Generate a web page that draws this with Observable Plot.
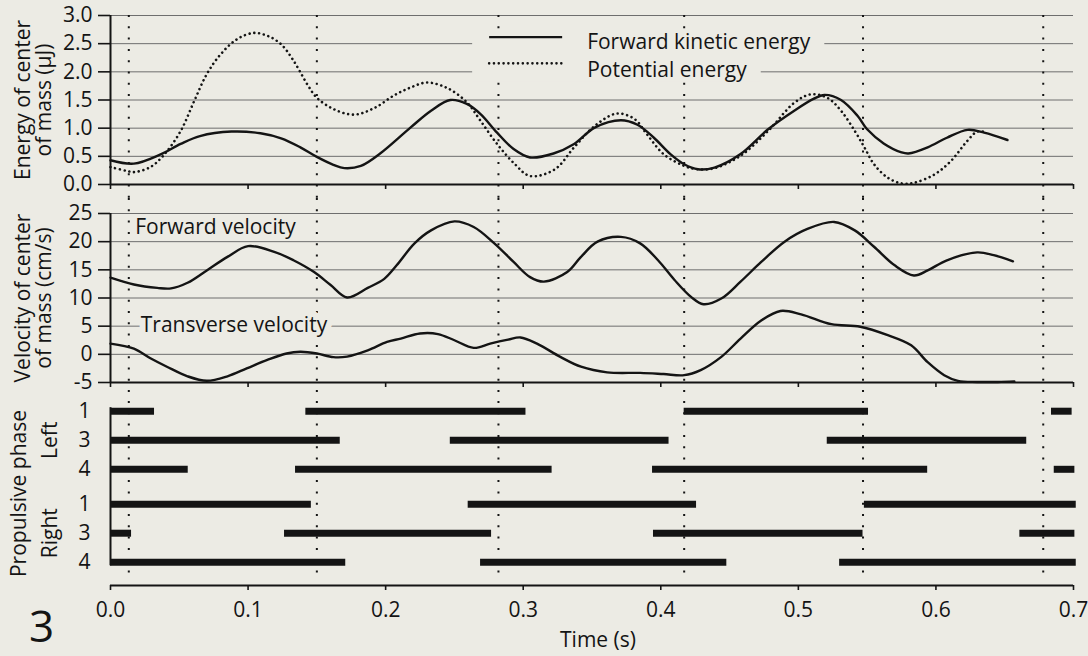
<!DOCTYPE html>
<html><head><meta charset="utf-8">
<script src="https://cdn.jsdelivr.net/npm/d3@7"></script>
<script src="https://cdn.jsdelivr.net/npm/@observablehq/plot@0.6"></script>
<style>
html,body{margin:0;padding:0;background:#ecebe4;overflow:hidden}
#chart svg{display:block}
</style></head><body><div id="chart"></div>
<script>
// ---------------- data ----------------
const keT = [0, 0.017, 0.036, 0.051, 0.065, 0.088, 0.109, 0.124, 0.138, 0.150, 0.162, 0.170, 0.182, 0.196, 0.218, 0.233, 0.247, 0.259, 0.269, 0.281, 0.293, 0.305, 0.322, 0.337, 0.352, 0.371, 0.383, 0.395, 0.407, 0.417, 0.427, 0.439, 0.458, 0.478, 0.497, 0.511, 0.519, 0.531, 0.543, 0.550, 0.562, 0.575, 0.580, 0.594, 0.608, 0.623, 0.635, 0.652];
const keV = [0.43, 0.37, 0.53, 0.72, 0.86, 0.94, 0.91, 0.82, 0.66, 0.49, 0.35, 0.29, 0.33, 0.55, 1.01, 1.31, 1.50, 1.43, 1.25, 0.92, 0.63, 0.48, 0.55, 0.72, 1.01, 1.14, 1.06, 0.83, 0.54, 0.36, 0.27, 0.30, 0.54, 0.98, 1.31, 1.52, 1.59, 1.50, 1.22, 0.98, 0.73, 0.57, 0.55, 0.66, 0.83, 0.97, 0.92, 0.79];

const peT = [0, 0.012, 0.017, 0.029, 0.039, 0.051, 0.061, 0.070, 0.080, 0.092, 0.104, 0.114, 0.124, 0.133, 0.143, 0.150, 0.162, 0.177, 0.192, 0.206, 0.218, 0.230, 0.245, 0.259, 0.269, 0.281, 0.294, 0.305, 0.323, 0.337, 0.352, 0.368, 0.381, 0.390, 0.402, 0.417, 0.427, 0.439, 0.458, 0.478, 0.497, 0.509, 0.521, 0.531, 0.541, 0.548, 0.555, 0.565, 0.575, 0.584, 0.599, 0.611, 0.623, 0.630, 0.636];
const peV = [0.31, 0.24, 0.22, 0.31, 0.53, 0.95, 1.49, 1.96, 2.31, 2.58, 2.69, 2.64, 2.49, 2.20, 1.78, 1.54, 1.34, 1.24, 1.36, 1.58, 1.72, 1.81, 1.71, 1.46, 1.13, 0.72, 0.36, 0.15, 0.27, 0.66, 1.04, 1.26, 1.16, 0.89, 0.54, 0.33, 0.27, 0.29, 0.51, 0.95, 1.45, 1.60, 1.54, 1.31, 0.95, 0.66, 0.36, 0.12, 0.02, 0.03, 0.18, 0.42, 0.78, 0.94, 0.93];

const fvT = [0, 0.017, 0.034, 0.044, 0.056, 0.070, 0.085, 0.100, 0.119, 0.133, 0.148, 0.160, 0.172, 0.187, 0.199, 0.208, 0.221, 0.233, 0.250, 0.264, 0.279, 0.293, 0.305, 0.315, 0.332, 0.342, 0.354, 0.371, 0.385, 0.398, 0.410, 0.422, 0.431, 0.444, 0.458, 0.473, 0.490, 0.507, 0.526, 0.541, 0.555, 0.570, 0.584, 0.594, 0.608, 0.630, 0.642, 0.656];
const fvV = [13.6, 12.4, 11.8, 11.7, 12.7, 14.9, 17.3, 19.2, 18.2, 16.7, 14.6, 12.3, 10.1, 11.8, 13.4, 15.8, 19.7, 22.0, 23.6, 22.6, 19.7, 16.4, 13.7, 12.9, 14.6, 17.3, 20.0, 20.85, 19.7, 16.7, 13.2, 10.2, 8.9, 9.9, 12.9, 16.4, 20.0, 22.3, 23.5, 22.0, 19.1, 15.8, 14.0, 14.9, 16.7, 18.1, 17.6, 16.5];

const tvT = [0, 0.017, 0.029, 0.041, 0.056, 0.070, 0.085, 0.099, 0.114, 0.128, 0.138, 0.150, 0.162, 0.172, 0.187, 0.201, 0.211, 0.225, 0.238, 0.250, 0.264, 0.276, 0.289, 0.298, 0.310, 0.327, 0.342, 0.361, 0.385, 0.402, 0.417, 0.429, 0.444, 0.458, 0.473, 0.487, 0.502, 0.524, 0.545, 0.565, 0.582, 0.594, 0.606, 0.616, 0.630, 0.645, 0.657];
const tvV = [1.9, 1.0, -0.7, -2.2, -3.9, -4.7, -3.9, -2.5, -1.0, 0.15, 0.45, 0.15, -0.5, -0.4, 0.7, 2.2, 2.8, 3.7, 3.6, 2.5, 1.15, 1.9, 2.6, 3.0, 1.9, -0.45, -2.2, -3.2, -3.3, -3.5, -3.7, -2.8, -0.45, 2.8, 6.0, 7.7, 7.1, 5.35, 4.9, 3.4, 1.6, -1.4, -3.7, -4.7, -4.9, -4.9, -4.8];

// propulsive phases: [start, end] in s, one list per leg
const legNames = ["1", "3", "4", "1", "3", "4"];
const legSides = ["Left", "Left", "Left", "Right", "Right", "Right"];
const legPhases = [
  [[0, 0.032], [0.142, 0.302], [0.417, 0.551], [0.684, 0.699]],
  [[0, 0.167], [0.247, 0.406], [0.521, 0.666]],
  [[0, 0.0565], [0.1345, 0.321], [0.394, 0.594], [0.686, 0.701]],
  [[0, 0.146], [0.260, 0.426], [0.548, 0.702]],
  [[0, 0.0153], [0.1265, 0.277], [0.3947, 0.547], [0.661, 0.701]],
  [[0, 0.171], [0.269, 0.448], [0.530, 0.702]]
];
const markerTimes = [0.0133, 0.150, 0.282, 0.417, 0.547, 0.678];

const xTicks = [0, 0.1, 0.2, 0.3, 0.4, 0.5, 0.6, 0.7];
const energyTicks = [0, 0.5, 1.0, 1.5, 2.0, 2.5, 3.0];
const velocityTicks = [-5, 0, 5, 10, 15, 20, 25];

const energyTitle = "Energy of center\nof mass (µJ)";
const velocityTitle = "Velocity of center\nof mass (cm/s)";
const phaseTitle = "Propulsive phase";
const xTitle = "Time (s)";
const panelLabel = "3";
const legendLabels = ["Forward kinetic energy", "Potential energy"];
const fvLabel = "Forward velocity";
const tvLabel = "Transverse velocity";

// ---------------- style / layout ----------------
const BG = "#ecebe4", INK = "#141414", GRID = "#6e6e6e";
const FONT = "'Open Sans', sans-serif";
const FS = 21;
const SIDE_GAP = 0.2;           // extra row gap between left and right legs
const legendAnchor = {t: 0.2756, rows: [2.5, 2.0]};
const fvAt = {t: 0.018, v: 22.6};
const tvAt = {t: 0.022, v: 5.1};

const ke = keT.map((t, i) => ({t, v: keV[i]}));
const pe = peT.map((t, i) => ({t, v: peV[i]}));
const fv = fvT.map((t, i) => ({t, v: fvV[i]}));
const tv = tvT.map((t, i) => ({t, v: tvV[i]}));
const rowPos = legNames.map((n, i) => i + (legSides[i] === "Right" ? SIDE_GAP : 0));
const rows = legNames.map((name, i) => ({name, side: legSides[i], pos: rowPos[i]}));
const bars = legPhases.flatMap((ph, i) => ph.map(([s, e]) => ({s, e, pos: rowPos[i]})));
const sides = ["Left", "Right"].map(s => {
  const r = rows.filter(d => d.side === s);
  return {side: s, pos: r[1].pos};
});

const baseStyle = {background: "transparent", fontFamily: FONT, fontSize: FS + "px", color: INK, overflow: "visible"};
const common = {width: 1088, marginLeft: 110, marginRight: 15, x: {domain: [0, 0.7], label: null}, style: baseStyle};

const dotted = {stroke: INK, strokeWidth: 2, strokeDasharray: "2,9.3"};
const solidLine = {stroke: INK, strokeWidth: 2.4, curve: "catmull-rom"};
const dottedLine = {stroke: INK, strokeWidth: 2.6, strokeDasharray: "0.01,4.8", strokeLinecap: "round", curve: "catmull-rom"};
const rotated = {rotate: -90, textAnchor: "middle", lineAnchor: "middle", fill: INK};

// legend (drawn in pixel space from the plot's scales)
const measureCtx = document.createElement("canvas").getContext("2d");
measureCtx.font = `${FS}px ${FONT}`;
function legendMark(index, scales) {
  const ns = "http://www.w3.org/2000/svg";
  const g = document.createElementNS(ns, "g");
  const x0 = scales.x(legendAnchor.t);
  const ys = legendAnchor.rows.map(v => scales.y(v));
  const mid = (ys[0] + ys[1]) / 2;
  legendLabels.forEach((label, i) => {
    const yc = ys[i];
    const tw = measureCtx.measureText(label).width;
    const rect = document.createElementNS(ns, "rect");
    const top = i === 0 ? yc - 13 : mid;
    const bot = i === 0 ? mid : yc + 10;
    rect.setAttribute("x", x0 - 17);
    rect.setAttribute("y", top);
    rect.setAttribute("width", 98 + tw + 14 + 17);
    rect.setAttribute("height", bot - top);
    rect.setAttribute("fill", BG);
    g.appendChild(rect);
    const ln = document.createElementNS(ns, "line");
    const sy = yc - (i === 0 ? 6 : 8);
    ln.setAttribute("x1", x0); ln.setAttribute("x2", x0 + 73);
    ln.setAttribute("y1", sy); ln.setAttribute("y2", sy);
    ln.setAttribute("stroke", INK);
    if (i === 0) ln.setAttribute("stroke-width", 2.4);
    else {
      ln.setAttribute("stroke-width", 2.6);
      ln.setAttribute("stroke-dasharray", "0.01,4.8");
      ln.setAttribute("stroke-linecap", "round");
    }
    g.appendChild(ln);
    const tx = document.createElementNS(ns, "text");
    tx.setAttribute("x", x0 + 98);
    tx.setAttribute("y", yc - 2);
    tx.setAttribute("dy", "0.35em");
    tx.setAttribute("text-anchor", "start");
    tx.setAttribute("fill", INK);
    tx.textContent = label;
    g.appendChild(tx);
  });
  return g;
}

// ---------------- panel 1: energy ----------------
const p1 = Plot.plot({
  ...common, height: 198, marginTop: 15, marginBottom: 14,
  y: {domain: [0, 3], label: null},
  marks: [
    Plot.ruleY(energyTicks.filter(d => d > 0), {stroke: GRID, strokeWidth: 1}),
    Plot.ruleX(markerTimes, {...dotted, insetBottom: -14}),
    legendMark,
    Plot.line(pe, {x: "t", y: "v", ...dottedLine}),
    Plot.line(ke, {x: "t", y: "v", ...solidLine}),
    Plot.ruleX([0], {stroke: INK, strokeWidth: 2}),
    Plot.ruleY([0], {stroke: INK, strokeWidth: 2}),
    Plot.axisY({ticks: energyTicks, tickSize: 12, tickPadding: 6, tickFormat: d => d.toFixed(1), strokeWidth: 1.6, label: null}),
    Plot.axisX({ticks: xTicks, tickSize: 5, tickFormat: () => "", strokeWidth: 1.6, label: null}),
    Plot.text([energyTitle], {text: d => d, frameAnchor: "left", dx: -77, lineHeight: 1.0, ...rotated})
  ]
});

// ---------------- panel 2: velocity ----------------
const p2 = Plot.plot({
  ...common, height: 203, marginTop: 15, marginBottom: 19,
  y: {domain: [-5, 25], label: null},
  marks: [
    Plot.ruleY(velocityTicks.filter(d => d > -5), {stroke: GRID, strokeWidth: 1}),
    Plot.ruleX(markerTimes, {...dotted, insetTop: -15, insetBottom: -19}),
    Plot.text([tvLabel], {x: () => tvAt.t, y: () => tvAt.v, text: d => d, textAnchor: "start", fill: INK, stroke: BG, strokeWidth: 12, paintOrder: "stroke"}),
    Plot.text([fvLabel], {x: () => fvAt.t, y: () => fvAt.v, text: d => d, textAnchor: "start", fill: INK}),
    Plot.line(tv, {x: "t", y: "v", ...solidLine}),
    Plot.line(fv, {x: "t", y: "v", ...solidLine}),
    Plot.ruleX([0], {stroke: INK, strokeWidth: 2}),
    Plot.ruleY([-5], {stroke: INK, strokeWidth: 2}),
    Plot.axisY({ticks: velocityTicks, tickSize: 12, tickPadding: 6, tickFormat: d => String(d), strokeWidth: 1.6, label: null}),
    Plot.axisX({ticks: xTicks, tickSize: 5, tickFormat: () => "", strokeWidth: 1.6, label: null}),
    Plot.text([velocityTitle], {text: d => d, frameAnchor: "left", dx: -77, lineHeight: 1.0, ...rotated})
  ]
});

// ---------------- panel 3: propulsive phases ----------------
const yDom3 = [-0.334, 6.0];
const p3 = Plot.plot({
  ...common, height: 254, marginTop: 0, marginBottom: 70,
  y: {domain: yDom3, reverse: true, label: null, axis: null},
  marks: [
    Plot.ruleX(markerTimes, {...dotted, insetBottom: 10}),
    Plot.ruleY(bars, {x1: "s", x2: "e", y: "pos", stroke: INK, strokeWidth: 7}),
    Plot.ruleX([0], {y1: rowPos[0], y2: rowPos[rowPos.length - 1], insetTop: -3.5, insetBottom: -3.5, stroke: INK, strokeWidth: 2}),
    Plot.ruleY([yDom3[1]], {stroke: INK, strokeWidth: 2}),
    Plot.axisX({ticks: xTicks, tickSize: 5, tickPadding: 12, tickFormat: d => d.toFixed(1), strokeWidth: 1.6, label: null}),
    Plot.text(rows, {frameAnchor: "left", y: "pos", text: "name", dx: -20, textAnchor: "end", fill: INK}),
    Plot.text(sides, {frameAnchor: "left", y: "pos", text: "side", dx: -60, ...rotated}),
    Plot.text([phaseTitle], {text: d => d, frameAnchor: "left", dx: -91, ...rotated}),
    Plot.text([xTitle], {text: d => d, frameAnchor: "bottom", dx: 6, dy: 55, textAnchor: "middle", lineAnchor: "middle", fill: INK}),
    Plot.text([panelLabel], {text: d => d, frameAnchor: "bottom-left", dx: -69, dy: 42, lineAnchor: "middle", textAnchor: "middle", fontSize: 44, fill: INK})
  ]
});

const chart = document.getElementById("chart");
[p1, p2, p3].forEach(p => chart.appendChild(p));
</script>
</body></html>
